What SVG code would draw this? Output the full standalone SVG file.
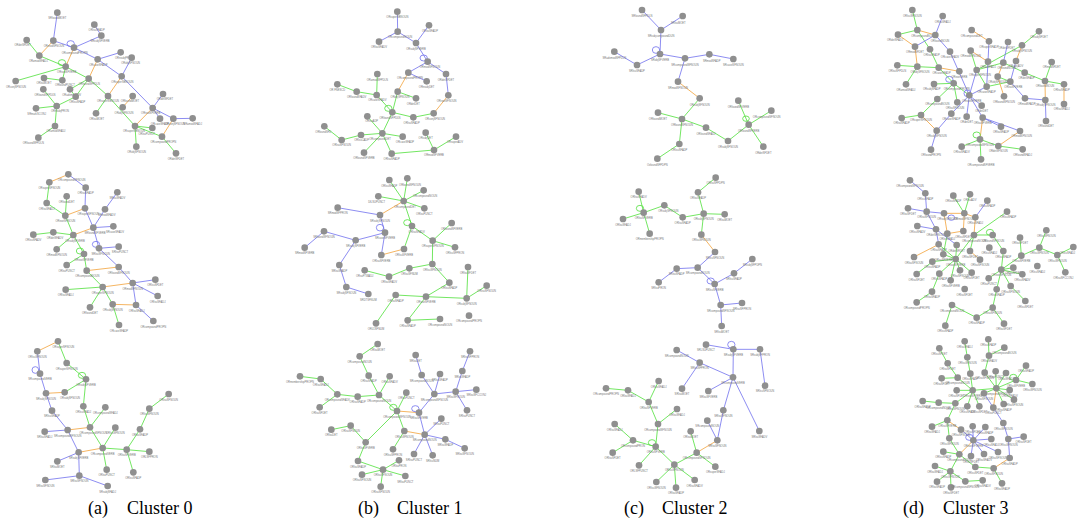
<svg xmlns="http://www.w3.org/2000/svg" width="1078" height="522" viewBox="0 0 1078 522">
<style>
.p circle.nd{fill:#8f8f8f}
.p text{font-family:"Liberation Sans",Arial,sans-serif;font-size:8px;fill:#777;text-anchor:middle}
.e{fill:none;stroke-width:2.4}
.g{stroke:#4fdf3a}
.b{stroke:#7070ee}
.o{stroke:#f2a23a}
.cap{font-family:"Liberation Serif","Times New Roman",serif;font-size:18px;fill:#000}
</style>
<rect width="1078" height="522" fill="#fff"/>

<!-- Panel a -->
<g id="panel-a" class="p" transform="translate(0 0) scale(0.33333)">
<g id="a-edges">
<path class="e g" d="M80 120L118 167M118 167L197 200M197 200L47 243M197 200L266 236M132 234L187 241M187 241L197 200M266 236L210 268M266 236L227 290M266 236L324 288M324 288L405 378M324 288L288 340M130 268L170 318M108 325L170 318M170 318L227 290M170 318L165 378M165 378L115 413M405 378L457 384M405 378L486 410M405 378L409 440M486 410L528 460M210 268L227 290"/>
<path class="e b" d="M172 38L160 122M283 74L304 107M304 107L222 143M160 122L222 143M222 143L293 178M293 178L365 229M395 173L365 229M365 229L458 324M489 282L458 324M458 324L480 356M458 324L520 356M520 356L578 355M362 157L293 178"/>
<path class="e o" d="M160 122L118 167M222 143L197 200M293 178L266 236M365 229L324 288M398 288L368 322M458 324L405 378M520 356L486 410"/>
<ellipse class="e b" cx="212" cy="131" rx="11" ry="9"/>
<ellipse class="e g" cx="186" cy="188" rx="11" ry="9"/>
</g>
<g id="a-n1"><circle class="nd" cx="172" cy="38" r="10"/><text x="172" y="58">SRfoundMOET</text></g>
<g id="a-n2"><circle class="nd" cx="283" cy="74" r="10"/><text x="290" y="94">ORlsuSFADP</text></g>
<g id="a-n3"><circle class="nd" cx="304" cy="107" r="10"/><text x="300" y="127">SRsubjSFVERB</text></g>
<g id="a-n4"><circle class="nd" cx="160" cy="122" r="10"/><text x="162" y="142">ORmodSFNOUN</text></g>
<g id="a-n5"><circle class="nd" cx="80" cy="120" r="10"/><text x="68" y="137">ORdetSFDET</text></g>
<g id="a-n6"><circle class="nd" cx="222" cy="143" r="10"/><text x="224" y="163">ORcompoundPROPN</text></g>
<g id="a-n7"><circle class="nd" cx="118" cy="167" r="10"/><text x="115" y="187">ORamodSFADJ</text></g>
<g id="a-n8"><circle class="nd" cx="362" cy="157" r="10"/><text x="372" y="177">ORnsubjPRON</text></g>
<g id="a-n9"><circle class="nd" cx="395" cy="173" r="10"/><text x="392" y="193">ORobjSFNOUN</text></g>
<g id="a-n10"><circle class="nd" cx="293" cy="178" r="10"/><text x="295" y="197">ORcaseSFADP</text></g>
<g id="a-n11"><circle class="nd" cx="197" cy="200" r="10"/><text x="200" y="219">ORrootSFVERB</text></g>
<g id="a-n12"><circle class="nd" cx="47" cy="243" r="10"/><text x="48" y="263">ORconjSFNOUN</text></g>
<g id="a-n13"><circle class="nd" cx="132" cy="234" r="10"/><text x="132" y="252">ORlsuMOET</text></g>
<g id="a-n14"><circle class="nd" cx="187" cy="241" r="10"/><text x="195" y="259">ORfoundPUNCT</text></g>
<g id="a-n15"><circle class="nd" cx="266" cy="236" r="10"/><text x="268" y="255">ORfoundSFPDLN</text></g>
<g id="a-n16"><circle class="nd" cx="365" cy="229" r="10"/><text x="367" y="248">ORsuperSBNOUN</text></g>
<g id="a-n17"><circle class="nd" cx="210" cy="268" r="10"/><text x="215" y="287">ORadvmodADV</text></g>
<g id="a-n18"><circle class="nd" cx="130" cy="268" r="10"/><text x="135" y="287">ORfoundSFPDLN</text></g>
<g id="a-n19"><circle class="nd" cx="227" cy="290" r="10"/><text x="232" y="309">ORlsuSFADP</text></g>
<g id="a-n20"><circle class="nd" cx="324" cy="288" r="10"/><text x="324" y="307">ORsuperSBNOUN</text></g>
<g id="a-n21"><circle class="nd" cx="398" cy="288" r="10"/><text x="390" y="307">ORfoundMOET</text></g>
<g id="a-n22"><circle class="nd" cx="489" cy="282" r="10"/><text x="495" y="301">ORdetSFDET</text></g>
<g id="a-n23"><circle class="nd" cx="108" cy="325" r="10"/><text x="110" y="345">SRmarkSCONJ</text></g>
<g id="a-n24"><circle class="nd" cx="170" cy="318" r="10"/><text x="180" y="337">ORnsubjPRON</text></g>
<g id="a-n25"><circle class="nd" cx="288" cy="340" r="10"/><text x="290" y="360">ORlsuMOET</text></g>
<g id="a-n26"><circle class="nd" cx="368" cy="322" r="10"/><text x="372" y="341">ORobjSFNOUN</text></g>
<g id="a-n27"><circle class="nd" cx="458" cy="324" r="10"/><text x="452" y="343">ORrootSFVERB</text></g>
<g id="a-n28"><circle class="nd" cx="480" cy="356" r="10"/><text x="480" y="375">ORcaseSFADP</text></g>
<g id="a-n29"><circle class="nd" cx="520" cy="356" r="10"/><text x="525" y="375">ORconjSFNOUN</text></g>
<g id="a-n30"><circle class="nd" cx="578" cy="355" r="10"/><text x="578" y="374">SRamodSFADJ</text></g>
<g id="a-n31"><circle class="nd" cx="165" cy="378" r="10"/><text x="168" y="397">ORamodSFADJ</text></g>
<g id="a-n32"><circle class="nd" cx="405" cy="378" r="10"/><text x="402" y="397">ORsuperSBNOUN</text></g>
<g id="a-n33"><circle class="nd" cx="457" cy="384" r="10"/><text x="440" y="405">ORlsuPUNCT</text></g>
<g id="a-n34"><circle class="nd" cx="486" cy="410" r="10"/><text x="490" y="429">ORcompoundPROPN</text></g>
<g id="a-n35"><circle class="nd" cx="115" cy="413" r="10"/><text x="100" y="432">ORfoundSFPDLN</text></g>
<g id="a-n36"><circle class="nd" cx="409" cy="440" r="10"/><text x="410" y="459">ORobjSFNOUN</text></g>
<g id="a-n37"><circle class="nd" cx="528" cy="460" r="10"/><text x="528" y="479">ORdetSFDET</text></g>
</g>

<!-- Panel b -->
<g id="panel-b" class="p" transform="translate(290 0) scale(0.33333)">
<g id="b-edges">
<path class="e g" d="M431 340L370 352M370 352L307 337M323 275L307 337M323 275L378 295M262 222L260 285M142 253L200 275M200 275L260 285M260 285L307 337M307 337L277 400M277 400L232 349M277 400L213 405M213 405L155 420M103 379L155 420M277 400L338 410M277 400L222 458M277 400L305 461M305 461L432 450M432 450L407 398M432 450L498 410"/>
<path class="e b" d="M322 35L323 95M323 95L267 125M323 95L378 129M417 76L378 129M378 129L413 185M413 185L355 218M413 185L468 222M355 218L410 244M468 222L475 286"/>
<path class="e o" d="M355 218L323 275M475 286L431 340"/>
<ellipse class="e b" cx="401" cy="174" rx="11" ry="9"/>
<ellipse class="e g" cx="295" cy="325" rx="11" ry="9"/>
</g>
<g id="b-n1"><circle class="nd" cx="322" cy="35" r="10"/><text x="322" y="55">ORsuperSBNOUN</text></g>
<g id="b-n2"><circle class="nd" cx="417" cy="76" r="10"/><text x="420" y="96">ORlsuSFADP</text></g>
<g id="b-n3"><circle class="nd" cx="323" cy="95" r="10"/><text x="330" y="115">ORcompoundNOUN</text></g>
<g id="b-n4"><circle class="nd" cx="267" cy="125" r="10"/><text x="267" y="145">ORlsuSFADV</text></g>
<g id="b-n5"><circle class="nd" cx="378" cy="129" r="10"/><text x="378" y="149">ORsubjSFVERB</text></g>
<g id="b-n6"><circle class="nd" cx="413" cy="185" r="10"/><text x="420" y="204">ORmodSFNOUN</text></g>
<g id="b-n7"><circle class="nd" cx="355" cy="218" r="10"/><text x="360" y="238">ORcompoundPROPN</text></g>
<g id="b-n8"><circle class="nd" cx="468" cy="222" r="10"/><text x="468" y="242">ORdetSFDET</text></g>
<g id="b-n9"><circle class="nd" cx="262" cy="222" r="10"/><text x="262" y="242">ORamodSFPDLN</text></g>
<g id="b-n10"><circle class="nd" cx="410" cy="244" r="10"/><text x="410" y="263">ORnsubjDET</text></g>
<g id="b-n11"><circle class="nd" cx="142" cy="253" r="10"/><text x="142" y="272">OR FNESCD</text></g>
<g id="b-n12"><circle class="nd" cx="200" cy="275" r="10"/><text x="200" y="295">ORfoundSFADV</text></g>
<g id="b-n13"><circle class="nd" cx="323" cy="275" r="10"/><text x="330" y="295">ORobjSFNOUN</text></g>
<g id="b-n14"><circle class="nd" cx="260" cy="285" r="10"/><text x="262" y="304">ORcaseSFADV</text></g>
<g id="b-n15"><circle class="nd" cx="378" cy="295" r="10"/><text x="370" y="314">ORdetDET</text></g>
<g id="b-n16"><circle class="nd" cx="475" cy="286" r="10"/><text x="470" y="305">ORrootSFNOUN</text></g>
<g id="b-n17"><circle class="nd" cx="307" cy="337" r="10"/><text x="300" y="356">ORfoundSFPDLN</text></g>
<g id="b-n18"><circle class="nd" cx="431" cy="340" r="10"/><text x="435" y="359">ORconjSFNOUN</text></g>
<g id="b-n19"><circle class="nd" cx="370" cy="352" r="10"/><text x="365" y="371">ORlsuSFADP</text></g>
<g id="b-n20"><circle class="nd" cx="232" cy="349" r="10"/><text x="245" y="367">ORlsuADP</text></g>
<g id="b-n21"><circle class="nd" cx="103" cy="379" r="10"/><text x="100" y="398">ORfoundSFD</text></g>
<g id="b-n22"><circle class="nd" cx="277" cy="400" r="10"/><text x="270" y="419">ORcompoundDET</text></g>
<g id="b-n23"><circle class="nd" cx="213" cy="405" r="10"/><text x="215" y="424">ORlsuCADP</text></g>
<g id="b-n24"><circle class="nd" cx="338" cy="410" r="10"/><text x="345" y="429">ORcaseSFADP</text></g>
<g id="b-n25"><circle class="nd" cx="155" cy="420" r="10"/><text x="155" y="439">ORlsuSFNOUN</text></g>
<g id="b-n26"><circle class="nd" cx="498" cy="410" r="10"/><text x="495" y="429">ORsuperADV</text></g>
<g id="b-n27"><circle class="nd" cx="407" cy="398" r="10"/><text x="407" y="417">ORsubjDET</text></g>
<g id="b-n28"><circle class="nd" cx="432" cy="450" r="10"/><text x="432" y="469">ORmodSFVERB</text></g>
<g id="b-n29"><circle class="nd" cx="222" cy="458" r="10"/><text x="222" y="477">ORfoundSFVERB</text></g>
<g id="b-n30"><circle class="nd" cx="305" cy="461" r="10"/><text x="305" y="480">ORlsuSFADP</text></g>
</g>

<!-- Panel c -->
<g id="panel-c" class="p" transform="translate(560 0) scale(0.33333)">
<g id="c-edges">
<path class="e g" d="M419 295L366 357M294 338L366 357M366 357L438 383M366 357L358 432M358 432L292 476M438 383L504 423M504 423L566 374M566 374L535 302M566 374L634 332M566 374L610 440"/>
<path class="e b" d="M246 30L303 90M368 48L303 90M303 90L300 162M300 162L231 195M163 155L231 195M300 162L375 175M375 175L448 163M448 163L520 177M375 175L354 245"/>
<path class="e o" d="M354 245L419 295"/>
<ellipse class="e b" cx="288" cy="150" rx="11" ry="10"/>
<ellipse class="e g" cx="558" cy="356" rx="10" ry="8"/>
</g>
<g id="c-n1"><circle class="nd" cx="246" cy="30" r="10"/><text x="246" y="52">SRfoundSFPDLN</text></g>
<g id="c-n2"><circle class="nd" cx="368" cy="48" r="10"/><text x="355" y="72">SRlsuMOET</text></g>
<g id="c-n3"><circle class="nd" cx="303" cy="90" r="10"/><text x="303" y="112">SRsubjcompoundDUN</text></g>
<g id="c-n4"><circle class="nd" cx="163" cy="155" r="10"/><text x="163" y="177">SRadvmodSFPDLN</text></g>
<g id="c-n5"><circle class="nd" cx="300" cy="162" r="10"/><text x="300" y="184">SRobjSFVERB</text></g>
<g id="c-n6"><circle class="nd" cx="375" cy="175" r="10"/><text x="375" y="197">SRcompoundSFNOUN</text></g>
<g id="c-n7"><circle class="nd" cx="448" cy="163" r="10"/><text x="455" y="185">SRmodSFADP</text></g>
<g id="c-n8"><circle class="nd" cx="520" cy="177" r="10"/><text x="520" y="199">SRcaseSFNOUN</text></g>
<g id="c-n9"><circle class="nd" cx="231" cy="195" r="10"/><text x="231" y="217">SRlsuSFADP</text></g>
<g id="c-n10"><circle class="nd" cx="354" cy="245" r="10"/><text x="354" y="267">SRmodSFNOUN</text></g>
<g id="c-n11"><circle class="nd" cx="419" cy="295" r="10"/><text x="419" y="317">ORsubjSFNOUN</text></g>
<g id="c-n12"><circle class="nd" cx="535" cy="302" r="10"/><text x="535" y="324">ORfoundSFVERB</text></g>
<g id="c-n13"><circle class="nd" cx="634" cy="332" r="10"/><text x="620" y="354">ORcompoundSFNOUN</text></g>
<g id="c-n14"><circle class="nd" cx="294" cy="338" r="10"/><text x="294" y="360">ORfoundMOET</text></g>
<g id="c-n15"><circle class="nd" cx="366" cy="357" r="10"/><text x="366" y="379">ORfoundSFNOUN</text></g>
<g id="c-n16"><circle class="nd" cx="438" cy="383" r="10"/><text x="438" y="405">ORfoundSFADJ</text></g>
<g id="c-n17"><circle class="nd" cx="566" cy="374" r="10"/><text x="566" y="396">ORfoundSFVERB</text></g>
<g id="c-n18"><circle class="nd" cx="504" cy="423" r="10"/><text x="504" y="445">ORsubjSFNOUN</text></g>
<g id="c-n19"><circle class="nd" cx="358" cy="432" r="10"/><text x="358" y="454">ORlsuSFADP</text></g>
<g id="c-n20"><circle class="nd" cx="610" cy="440" r="10"/><text x="610" y="462">ORdetSFDET</text></g>
<g id="c-n21"><circle class="nd" cx="292" cy="476" r="10"/><text x="292" y="498">OxfoundSFPDPN</text></g>
</g>

<!-- Panel d -->
<g id="panel-d" class="p" transform="translate(860 0) scale(0.33333)">
<g id="d-edges">
<path class="e g" d="M157 30L172 90M172 90L114 104M172 90L210 148M210 148L236 203M112 196L172 200M172 200L236 203M172 200L138 253M236 203L281 250M222 252L281 250M281 250L232 297M232 297L183 345M183 345L125 354M281 250L292 307M350 210L332 152M350 210L380 260M350 210L430 188M430 188L494 218M486 136L537 94M350 210L486 136M413 230L451 245M451 245L380 260M494 218L555 243M575 186L555 243M555 243L612 253M360 418L305 440M360 418L415 438M360 418L363 478M415 438L488 448M281 250L328 286"/>
<path class="e b" d="M248 48L226 105M226 105L165 140M226 105L270 155M270 155L328 286M328 286L350 210M384 185L380 260M468 183L451 245M380 260L328 286M451 245L495 295M495 295L556 300M556 300L558 363M328 286L274 341M274 341L230 392M230 392L213 449M328 286L320 350M328 286L365 317M328 286L368 353M368 353L480 393M368 353L423 380M387 124L384 185M444 126L430 188"/>
<path class="e o" d="M172 90L226 105M114 104L165 140M165 140L172 200M236 203L298 214M183 345L230 392M335 90L387 124M332 152L384 185M430 188L413 230M486 136L468 183M413 230L432 289M555 243L556 300M612 253L612 312M368 353L360 418M480 393L415 438"/>
<ellipse class="e b" cx="268" cy="238" rx="11" ry="9"/>
<circle class="e b" cx="322" cy="280" r="10"/>
<ellipse class="e g" cx="350" cy="405" rx="11" ry="9"/>
</g>
<g id="d-n0"><circle class="nd" cx="157" cy="30" r="10"/><text x="157" y="50">ORlsuSFNOUN</text></g>
<g id="d-n1"><circle class="nd" cx="248" cy="48" r="10"/><text x="248" y="68">ORlsuSFADJ</text></g>
<g id="d-n2"><circle class="nd" cx="172" cy="90" r="10"/><text x="190" y="110">ORcompoundNOUN</text></g>
<g id="d-n3"><circle class="nd" cx="114" cy="104" r="10"/><text x="105" y="124">ORdetSFADJ</text></g>
<g id="d-n4"><circle class="nd" cx="226" cy="105" r="10"/><text x="240" y="125">ORfoundNOUN</text></g>
<g id="d-n5"><circle class="nd" cx="210" cy="148" r="10"/><text x="215" y="167">ORlsuSFADP</text></g>
<g id="d-n6"><circle class="nd" cx="165" cy="140" r="10"/><text x="165" y="159">ORmodSFDET</text></g>
<g id="d-n7"><circle class="nd" cx="335" cy="90" r="10"/><text x="335" y="110">ORcompoundDET</text></g>
<g id="d-n8"><circle class="nd" cx="387" cy="124" r="10"/><text x="387" y="144">ORsuperSFADP</text></g>
<g id="d-n9"><circle class="nd" cx="270" cy="155" r="10"/><text x="270" y="175">ORcaseSFADV</text></g>
<g id="d-n10"><circle class="nd" cx="332" cy="152" r="10"/><text x="332" y="172">ORmodSFNOUN</text></g>
<g id="d-n11"><circle class="nd" cx="444" cy="126" r="10"/><text x="440" y="146">ORdetSFDET</text></g>
<g id="d-n12"><circle class="nd" cx="486" cy="136" r="10"/><text x="486" y="156">ORsubjSFNOUN</text></g>
<g id="d-n13"><circle class="nd" cx="537" cy="94" r="10"/><text x="537" y="114">ORsubjSFDET</text></g>
<g id="d-n14"><circle class="nd" cx="112" cy="196" r="10"/><text x="112" y="215">ORlsuSFPDLN</text></g>
<g id="d-n15"><circle class="nd" cx="172" cy="200" r="10"/><text x="180" y="219">ORobjSFNOUN</text></g>
<g id="d-n16"><circle class="nd" cx="236" cy="203" r="10"/><text x="245" y="222">ORcaseSFADP</text></g>
<g id="d-n17"><circle class="nd" cx="298" cy="214" r="10"/><text x="298" y="233">ORrootVERB</text></g>
<g id="d-n18"><circle class="nd" cx="350" cy="210" r="10"/><text x="360" y="229">ORsuperSFNOUN</text></g>
<g id="d-n19"><circle class="nd" cx="384" cy="185" r="10"/><text x="384" y="204">ORlsuSFADJ</text></g>
<g id="d-n20"><circle class="nd" cx="430" cy="188" r="10"/><text x="440" y="207">ORfoundNOUN</text></g>
<g id="d-n21"><circle class="nd" cx="468" cy="183" r="10"/><text x="468" y="202">ORconjADV</text></g>
<g id="d-n22"><circle class="nd" cx="494" cy="218" r="10"/><text x="500" y="237">ORdetSFADP</text></g>
<g id="d-n23"><circle class="nd" cx="575" cy="186" r="10"/><text x="575" y="205">ORmodSFDET</text></g>
<g id="d-n24"><circle class="nd" cx="555" cy="243" r="10"/><text x="555" y="262">ORfoundNOUN</text></g>
<g id="d-n25"><circle class="nd" cx="612" cy="253" r="10"/><text x="605" y="272">ORlsuSFADP</text></g>
<g id="d-n26"><circle class="nd" cx="138" cy="253" r="10"/><text x="138" y="272">ORamodSFADJ</text></g>
<g id="d-n27"><circle class="nd" cx="222" cy="252" r="10"/><text x="215" y="271">ORsubjSFADP</text></g>
<g id="d-n28"><circle class="nd" cx="281" cy="250" r="10"/><text x="290" y="269">ORcompoundPROPN</text></g>
<g id="d-n29"><circle class="nd" cx="413" cy="230" r="10"/><text x="413" y="249">ORobjSFNOUN</text></g>
<g id="d-n30"><circle class="nd" cx="451" cy="245" r="10"/><text x="460" y="264">ORlsuSFVERB</text></g>
<g id="d-n31"><circle class="nd" cx="380" cy="260" r="10"/><text x="380" y="279">ORcaseSFADP</text></g>
<g id="d-n32"><circle class="nd" cx="328" cy="286" r="10"/><text x="335" y="305">ORrootSFVERB</text></g>
<g id="d-n33"><circle class="nd" cx="292" cy="307" r="10"/><text x="285" y="326">ORlsuSFNOUN</text></g>
<g id="d-n34"><circle class="nd" cx="365" cy="317" r="10"/><text x="365" y="336">ORdetDET</text></g>
<g id="d-n35"><circle class="nd" cx="432" cy="289" r="10"/><text x="432" y="308">ORfoundSFNOUN</text></g>
<g id="d-n36"><circle class="nd" cx="495" cy="295" r="10"/><text x="500" y="314">ORmodSFADP</text></g>
<g id="d-n37"><circle class="nd" cx="556" cy="300" r="10"/><text x="556" y="319">ORsubjSFNOUN</text></g>
<g id="d-n38"><circle class="nd" cx="612" cy="312" r="10"/><text x="605" y="331">ORlsuSFADJ</text></g>
<g id="d-n39"><circle class="nd" cx="232" cy="297" r="10"/><text x="232" y="316">ORcompoundNOUN</text></g>
<g id="d-n40"><circle class="nd" cx="183" cy="345" r="10"/><text x="183" y="364">ORsuperSFNOUN</text></g>
<g id="d-n41"><circle class="nd" cx="125" cy="354" r="10"/><text x="125" y="373">ORlsuSFADP</text></g>
<g id="d-n42"><circle class="nd" cx="274" cy="341" r="10"/><text x="274" y="360">ORcaseSFADP</text></g>
<g id="d-n43"><circle class="nd" cx="320" cy="350" r="10"/><text x="320" y="369">ORdetDET</text></g>
<g id="d-n44"><circle class="nd" cx="368" cy="353" r="10"/><text x="368" y="372">ORlsuSFVERB</text></g>
<g id="d-n45"><circle class="nd" cx="558" cy="363" r="10"/><text x="558" y="382">ORfoundDET</text></g>
<g id="d-n46"><circle class="nd" cx="423" cy="380" r="10"/><text x="423" y="399">ORlsuSFADP</text></g>
<g id="d-n47"><circle class="nd" cx="480" cy="393" r="10"/><text x="485" y="412">ORmodSFNOUN</text></g>
<g id="d-n48"><circle class="nd" cx="230" cy="392" r="10"/><text x="230" y="411">ORsubjSFNOUN</text></g>
<g id="d-n49"><circle class="nd" cx="213" cy="449" r="10"/><text x="213" y="468">ORfoundPROPN</text></g>
<g id="d-n50"><circle class="nd" cx="360" cy="418" r="10"/><text x="360" y="437">ORcompoundSFNOUN</text></g>
<g id="d-n51"><circle class="nd" cx="305" cy="440" r="10"/><text x="305" y="459">ORlsuSFADV</text></g>
<g id="d-n52"><circle class="nd" cx="415" cy="438" r="10"/><text x="415" y="457">ORdetSFNOUN</text></g>
<g id="d-n53"><circle class="nd" cx="488" cy="448" r="10"/><text x="488" y="467">ORfoundSFADJ</text></g>
<g id="d-n54"><circle class="nd" cx="363" cy="478" r="10"/><text x="363" y="497">ORcompoundSFVERB</text></g>
</g>

<!-- Panel e -->
<g id="panel-e" class="p" transform="translate(0 165) scale(0.33333)">
<g id="e-edges">
<path class="e g" d="M148 52L140 114M140 114L196 152M200 94L196 152M196 152L220 210M100 209L160 202M160 202L220 210M220 210L170 253M220 210L252 267M252 267L200 300M252 267L260 317M260 317L308 366M197 374L308 366M308 366L270 427M308 366L338 418M338 418L357 480"/>
<path class="e b" d="M205 28L257 68M257 68L255 130M255 130L280 188M352 82L315 133M315 133L280 188M280 188L340 184M280 188L297 250M297 250L356 245M297 250L356 306M356 306L398 354M398 354L466 344M398 354L473 393M398 354L408 420M408 420L460 468"/>
<path class="e o" d="M205 28L148 52M196 152L255 130M280 188L220 210M260 317L356 306M308 366L398 354M338 418L408 420"/>
<ellipse class="e b" cx="288" cy="238" rx="11" ry="9"/>
<ellipse class="e g" cx="240" cy="258" rx="11" ry="9"/>
</g>
<g id="e-n0"><circle class="nd" cx="205" cy="28" r="10"/><text x="215" y="48">ORcompoundSFNOUN</text></g>
<g id="e-n1"><circle class="nd" cx="148" cy="52" r="10"/><text x="148" y="72">ORsuperSFNOUN</text></g>
<g id="e-n2"><circle class="nd" cx="257" cy="68" r="10"/><text x="257" y="88">ORlsuSFADP</text></g>
<g id="e-n3"><circle class="nd" cx="352" cy="82" r="10"/><text x="352" y="102">SRlsuSFADV</text></g>
<g id="e-n4"><circle class="nd" cx="200" cy="94" r="10"/><text x="200" y="114">ORfoundDET</text></g>
<g id="e-n5"><circle class="nd" cx="140" cy="114" r="10"/><text x="140" y="134">ORlsuSFADJ</text></g>
<g id="e-n6"><circle class="nd" cx="255" cy="130" r="10"/><text x="265" y="150">ORsuperSFNOUN</text></g>
<g id="e-n7"><circle class="nd" cx="315" cy="133" r="10"/><text x="320" y="153">SRmodSFADV</text></g>
<g id="e-n8"><circle class="nd" cx="196" cy="152" r="10"/><text x="196" y="172">ORrootSFNOUN</text></g>
<g id="e-n9"><circle class="nd" cx="280" cy="188" r="10"/><text x="285" y="208">SRfoundSFVERB</text></g>
<g id="e-n10"><circle class="nd" cx="340" cy="184" r="10"/><text x="345" y="204">SRcaseSFADV</text></g>
<g id="e-n11"><circle class="nd" cx="100" cy="209" r="10"/><text x="100" y="229">ORlsuSFADV</text></g>
<g id="e-n12"><circle class="nd" cx="160" cy="202" r="10"/><text x="165" y="222">ORdetSFADV</text></g>
<g id="e-n13"><circle class="nd" cx="220" cy="210" r="10"/><text x="225" y="230">ORsubjSFVERB</text></g>
<g id="e-n14"><circle class="nd" cx="170" cy="253" r="10"/><text x="170" y="273">ORmodSFNOUN</text></g>
<g id="e-n15"><circle class="nd" cx="297" cy="250" r="10"/><text x="302" y="270">SRlsuSFNOUN</text></g>
<g id="e-n16"><circle class="nd" cx="356" cy="245" r="10"/><text x="360" y="265">SRlsuPUNCT</text></g>
<g id="e-n17"><circle class="nd" cx="252" cy="267" r="10"/><text x="252" y="287">ORrootSFVERB</text></g>
<g id="e-n18"><circle class="nd" cx="200" cy="300" r="10"/><text x="200" y="320">ORlsuPUNCT</text></g>
<g id="e-n19"><circle class="nd" cx="260" cy="317" r="10"/><text x="262" y="337">ORcompoundNOUN</text></g>
<g id="e-n20"><circle class="nd" cx="356" cy="306" r="10"/><text x="356" y="326">ORfoundSFNOUN</text></g>
<g id="e-n21"><circle class="nd" cx="398" cy="354" r="10"/><text x="398" y="374">ORmodSFNOUN</text></g>
<g id="e-n22"><circle class="nd" cx="466" cy="344" r="10"/><text x="466" y="364">ORlsuSFDET</text></g>
<g id="e-n23"><circle class="nd" cx="197" cy="374" r="10"/><text x="197" y="394">ORlsuSFADJ</text></g>
<g id="e-n24"><circle class="nd" cx="308" cy="366" r="10"/><text x="308" y="386">ORsuperSFNOUN</text></g>
<g id="e-n25"><circle class="nd" cx="473" cy="393" r="10"/><text x="473" y="413">ORlsuSFADJ</text></g>
<g id="e-n26"><circle class="nd" cx="270" cy="427" r="10"/><text x="270" y="447">ORfoundDET</text></g>
<g id="e-n27"><circle class="nd" cx="338" cy="418" r="10"/><text x="338" y="438">ORsubjSFNOUN</text></g>
<g id="e-n28"><circle class="nd" cx="408" cy="420" r="10"/><text x="410" y="440">ORlsuSFADJ</text></g>
<g id="e-n29"><circle class="nd" cx="460" cy="468" r="10"/><text x="460" y="488">ORcompoundPROPN</text></g>
<g id="e-n30"><circle class="nd" cx="357" cy="480" r="10"/><text x="357" y="500">ORcaseSFADP</text></g>
</g>

<!-- Panel f -->
<g id="panel-f" class="p" transform="translate(290 165) scale(0.33333)">
<g id="f-edges">
<path class="e g" d="M298 45L341 108M352 40L341 108M401 76L341 108M265 94L341 108M403 130L341 108M341 108L366 183M366 183L342 252M366 183L428 227M428 227L485 174M428 227L495 247M428 227L427 297M427 297L358 310M358 310L297 335M224 316L297 335M427 297L478 353M478 353L408 395M317 390L408 395M408 395L530 400M534 306L530 400M590 362L530 400M408 395L353 466M353 466L450 462M317 390L258 475"/>
<path class="e b" d="M143 128L270 150M270 150L285 203M285 203L197 226M285 203L274 270M102 199L197 226M102 199L44 248M197 226L148 300M148 300L169 366M169 366L235 387"/>
<path class="e o" d="M341 108L270 150M342 252L274 270"/>
<ellipse class="e g" cx="352" cy="173" rx="11" ry="9"/>
<ellipse class="e b" cx="270" cy="188" rx="11" ry="10"/>
</g>
<g id="f-n0"><circle class="nd" cx="298" cy="45" r="10"/><text x="298" y="65">ORlsuSFADP</text></g>
<g id="f-n1"><circle class="nd" cx="352" cy="40" r="10"/><text x="360" y="62">ORfoundSFNOUN</text></g>
<g id="f-n2"><circle class="nd" cx="401" cy="76" r="10"/><text x="405" y="96">ORcompoundNOUN</text></g>
<g id="f-n3"><circle class="nd" cx="265" cy="94" r="10"/><text x="260" y="114">DfLSUPUNCT</text></g>
<g id="f-n4"><circle class="nd" cx="341" cy="108" r="10"/><text x="345" y="128">ORcompoundDET</text></g>
<g id="f-n5"><circle class="nd" cx="403" cy="130" r="10"/><text x="403" y="150">ORlsuPUNCT</text></g>
<g id="f-n6"><circle class="nd" cx="143" cy="128" r="10"/><text x="143" y="148">SRmodSFPRON</text></g>
<g id="f-n7"><circle class="nd" cx="270" cy="150" r="10"/><text x="270" y="170">SRsubjSFNOUN</text></g>
<g id="f-n8"><circle class="nd" cx="366" cy="183" r="10"/><text x="380" y="203">ORlsuSFADV</text></g>
<g id="f-n9"><circle class="nd" cx="485" cy="174" r="10"/><text x="485" y="194">ORfoundSFVERB</text></g>
<g id="f-n10"><circle class="nd" cx="102" cy="199" r="10"/><text x="102" y="219">SRfoundSFNOUN</text></g>
<g id="f-n11"><circle class="nd" cx="285" cy="203" r="10"/><text x="285" y="223">SRcaseSFVERB</text></g>
<g id="f-n12"><circle class="nd" cx="197" cy="226" r="10"/><text x="197" y="246">SRsubjSFVERB</text></g>
<g id="f-n13"><circle class="nd" cx="428" cy="227" r="10"/><text x="428" y="247">ORsuperSFNOUN</text></g>
<g id="f-n14"><circle class="nd" cx="44" cy="248" r="10"/><text x="44" y="268">SRmodSFVERB</text></g>
<g id="f-n15"><circle class="nd" cx="342" cy="252" r="10"/><text x="342" y="272">ORlsuSFVERB</text></g>
<g id="f-n16"><circle class="nd" cx="495" cy="247" r="10"/><text x="495" y="267">ORlsuSFPRON</text></g>
<g id="f-n17"><circle class="nd" cx="274" cy="270" r="10"/><text x="274" y="290">ORlsuSFVERB</text></g>
<g id="f-n18"><circle class="nd" cx="148" cy="300" r="10"/><text x="148" y="320">SRlsuSFADP</text></g>
<g id="f-n19"><circle class="nd" cx="427" cy="297" r="10"/><text x="427" y="317">ORlsuSFNOUN</text></g>
<g id="f-n20"><circle class="nd" cx="224" cy="316" r="10"/><text x="224" y="336">ORsuFTWADJ</text></g>
<g id="f-n21"><circle class="nd" cx="358" cy="310" r="10"/><text x="358" y="330">ORlsuSFNUM</text></g>
<g id="f-n22"><circle class="nd" cx="297" cy="335" r="10"/><text x="297" y="355">ORlsuSFADV</text></g>
<g id="f-n23"><circle class="nd" cx="534" cy="306" r="10"/><text x="534" y="326">ORlsuSFDET</text></g>
<g id="f-n24"><circle class="nd" cx="478" cy="353" r="10"/><text x="478" y="373">ORlsuSFADP</text></g>
<g id="f-n25"><circle class="nd" cx="169" cy="366" r="10"/><text x="169" y="386">SRsubjSFNOUN</text></g>
<g id="f-n26"><circle class="nd" cx="235" cy="387" r="10"/><text x="235" y="407">SRDTSFNUM</text></g>
<g id="f-n27"><circle class="nd" cx="590" cy="362" r="10"/><text x="590" y="382">ORlsuSFNOUN</text></g>
<g id="f-n28"><circle class="nd" cx="317" cy="390" r="10"/><text x="317" y="410">ORlsuSFADP</text></g>
<g id="f-n29"><circle class="nd" cx="408" cy="395" r="10"/><text x="408" y="415">ORrootSFVERB</text></g>
<g id="f-n30"><circle class="nd" cx="530" cy="400" r="10"/><text x="530" y="420">ORsubjSFNOUN</text></g>
<g id="f-n31"><circle class="nd" cx="537" cy="452" r="10"/><text x="537" y="472">ORcompoundPROPN</text></g>
<g id="f-n32"><circle class="nd" cx="450" cy="462" r="10"/><text x="450" y="482">ORcompoundNOUN</text></g>
<g id="f-n33"><circle class="nd" cx="353" cy="466" r="10"/><text x="353" y="486">ORlsuSFADP</text></g>
<g id="f-n34"><circle class="nd" cx="258" cy="475" r="10"/><text x="258" y="495">OR01SFNUM</text></g>
</g>

<!-- Panel g -->
<g id="panel-g" class="p" transform="translate(580 165) scale(0.33333)">
<g id="g-edges">
<path class="e g" d="M407 38L354 82M354 82L371 146M371 146L434 148M371 146L308 157M308 157L253 121M253 121L191 143M176 80L191 143M191 143L129 162M191 143L209 206M371 146L364 209"/>
<path class="e b" d="M405 261L353 308M353 308L290 311M290 311L236 352M353 308L404 357M404 357L462 325M462 325L517 282M404 357L422 420M422 420L486 414M422 420L425 483"/>
<path class="e o" d="M364 209L405 261"/>
<ellipse class="e g" cx="180" cy="130" rx="11" ry="9"/>
<ellipse class="e b" cx="392" cy="348" rx="11" ry="9"/>
</g>
<g id="g-n0"><circle class="nd" cx="407" cy="38" r="10"/><text x="407" y="58">ORlsuSFPDPN</text></g>
<g id="g-n1"><circle class="nd" cx="354" cy="82" r="10"/><text x="354" y="102">ORlsuSFADP</text></g>
<g id="g-n2"><circle class="nd" cx="176" cy="80" r="10"/><text x="176" y="100">ORlsuSFADV</text></g>
<g id="g-n3"><circle class="nd" cx="191" cy="143" r="10"/><text x="191" y="163">ORlsuSFVERB</text></g>
<g id="g-n4"><circle class="nd" cx="253" cy="121" r="10"/><text x="265" y="141">ORsubjSFNOUN</text></g>
<g id="g-n5"><circle class="nd" cx="129" cy="162" r="10"/><text x="129" y="182">ORlsuSFADJ</text></g>
<g id="g-n6"><circle class="nd" cx="308" cy="157" r="10"/><text x="308" y="177">ORlsuSFADP</text></g>
<g id="g-n7"><circle class="nd" cx="371" cy="146" r="10"/><text x="371" y="166">ORsubjSFNOUN</text></g>
<g id="g-n8"><circle class="nd" cx="434" cy="148" r="10"/><text x="434" y="168">ORlsuMOET</text></g>
<g id="g-n9"><circle class="nd" cx="209" cy="206" r="10"/><text x="209" y="226">ORmembershipPROPN</text></g>
<g id="g-n10"><circle class="nd" cx="364" cy="209" r="10"/><text x="364" y="229">ORlsuSFNOUN</text></g>
<g id="g-n11"><circle class="nd" cx="405" cy="261" r="10"/><text x="405" y="281">SRlsuSFNOUN</text></g>
<g id="g-n12"><circle class="nd" cx="353" cy="308" r="10"/><text x="353" y="328">SRcompoundNOUN</text></g>
<g id="g-n13"><circle class="nd" cx="290" cy="311" r="10"/><text x="290" y="331">SRlsuSFADP</text></g>
<g id="g-n14"><circle class="nd" cx="236" cy="352" r="10"/><text x="236" y="372">SRlsuPRON</text></g>
<g id="g-n15"><circle class="nd" cx="517" cy="282" r="10"/><text x="517" y="302">SRsubjSFPDPN</text></g>
<g id="g-n16"><circle class="nd" cx="462" cy="325" r="10"/><text x="462" y="345">SRlsuSFADP</text></g>
<g id="g-n17"><circle class="nd" cx="404" cy="357" r="10"/><text x="404" y="377">SRlsuSFVERB</text></g>
<g id="g-n18"><circle class="nd" cx="422" cy="420" r="10"/><text x="422" y="440">SRcompoundSFNOUN</text></g>
<g id="g-n19"><circle class="nd" cx="486" cy="414" r="10"/><text x="486" y="434">SRlsuSFPRON</text></g>
<g id="g-n20"><circle class="nd" cx="425" cy="483" r="10"/><text x="425" y="503">SRlsuMOET</text></g>
</g>

<!-- Panel h -->
<g id="panel-h" class="p" transform="translate(860 165) scale(0.33333)">
<g id="h-edges">
<path class="e g" d="M280 92L313 145M330 88L313 145M342 210L398 210M342 210L441 140M342 210L287 282M236 238L287 282M290 240L287 282M250 268L287 282M217 290L287 282M217 290L170 327M287 282L238 326M287 282L300 316M287 282L335 323M287 282L272 346M238 326L216 380M216 380L170 412M398 210L430 258M430 258L424 314M424 314L386 340M424 314L460 308M424 314L487 328M424 314L410 373M424 314L452 363M424 314L484 272M484 272L480 218M484 272L538 248M538 248L559 196M538 248L592 270M592 270L640 246M592 270L616 322M452 363L496 408M410 373L398 428M398 428L350 458M398 428L432 476M350 458L276 420M276 420L256 482M262 206L250 268M342 210L330 258"/>
<path class="e b" d="M150 46L196 85M196 85L200 140M144 130L200 140M200 140L228 193M172 183L228 193M382 107L346 157M228 193L290 240M200 140L252 145M228 193L236 238"/>
<path class="e o" d="M252 145L313 145M252 145L262 206M313 145L310 198M346 157L342 210M262 206L310 198M236 238L162 276M330 258L360 284M313 145L346 157"/>
<ellipse class="e b" cx="274" cy="158" rx="10" ry="8"/>
<ellipse class="e g" cx="390" cy="202" rx="11" ry="9"/>
</g>
<g id="h-n0"><circle class="nd" cx="150" cy="46" r="10"/><text x="150" y="66">ORcompoundSFNOUN</text></g>
<g id="h-n1"><circle class="nd" cx="196" cy="85" r="10"/><text x="196" y="105">ORlsuSFADP</text></g>
<g id="h-n2"><circle class="nd" cx="144" cy="130" r="10"/><text x="144" y="150">ORlsuSFDET</text></g>
<g id="h-n3"><circle class="nd" cx="200" cy="140" r="10"/><text x="200" y="160">ORlsuSFNOUN</text></g>
<g id="h-n4"><circle class="nd" cx="252" cy="145" r="10"/><text x="262" y="165">ORsubjSFNOUN</text></g>
<g id="h-n5"><circle class="nd" cx="280" cy="92" r="10"/><text x="280" y="112">ORlsuSFADP</text></g>
<g id="h-n6"><circle class="nd" cx="330" cy="88" r="10"/><text x="330" y="108">ORlsuADV</text></g>
<g id="h-n7"><circle class="nd" cx="382" cy="107" r="10"/><text x="382" y="127">ORlsuSFADP</text></g>
<g id="h-n8"><circle class="nd" cx="313" cy="145" r="10"/><text x="313" y="165">ORmodSFNOUN</text></g>
<g id="h-n9"><circle class="nd" cx="346" cy="157" r="10"/><text x="346" y="177">ORlsuSFADJ</text></g>
<g id="h-n10"><circle class="nd" cx="441" cy="140" r="10"/><text x="445" y="160">ORlsuSFADP</text></g>
<g id="h-n11"><circle class="nd" cx="172" cy="183" r="10"/><text x="172" y="203">ORlsuSFADV</text></g>
<g id="h-n12"><circle class="nd" cx="228" cy="193" r="10"/><text x="228" y="213">ORdetSFNOUN</text></g>
<g id="h-n13"><circle class="nd" cx="262" cy="206" r="10"/><text x="262" y="226">ORlsuSFADJ</text></g>
<g id="h-n14"><circle class="nd" cx="310" cy="198" r="10"/><text x="310" y="218">ORlsuSFDET</text></g>
<g id="h-n15"><circle class="nd" cx="342" cy="210" r="10"/><text x="342" y="230">ORcompoundNOUN</text></g>
<g id="h-n16"><circle class="nd" cx="398" cy="210" r="10"/><text x="400" y="230">ORfoundSFNOUN</text></g>
<g id="h-n17"><circle class="nd" cx="236" cy="238" r="10"/><text x="236" y="258">ORlsuSFADP</text></g>
<g id="h-n18"><circle class="nd" cx="290" cy="240" r="10"/><text x="290" y="260">ORdetSFDET</text></g>
<g id="h-n19"><circle class="nd" cx="250" cy="268" r="10"/><text x="250" y="288">ORlsuSFVERB</text></g>
<g id="h-n20"><circle class="nd" cx="330" cy="258" r="10"/><text x="330" y="278">ORlsuSFDET</text></g>
<g id="h-n21"><circle class="nd" cx="388" cy="248" r="10"/><text x="388" y="268">ORlsuSFADJ</text></g>
<g id="h-n22"><circle class="nd" cx="430" cy="258" r="10"/><text x="430" y="278">ORlsuSFADP</text></g>
<g id="h-n23"><circle class="nd" cx="480" cy="218" r="10"/><text x="480" y="238">ORlsuSFDET</text></g>
<g id="h-n24"><circle class="nd" cx="559" cy="196" r="10"/><text x="559" y="216">ORlsuSFNOUN</text></g>
<g id="h-n25"><circle class="nd" cx="538" cy="248" r="10"/><text x="538" y="268">ORlsuSFNOUN</text></g>
<g id="h-n26"><circle class="nd" cx="484" cy="272" r="10"/><text x="484" y="292">ORlsuSFVERB</text></g>
<g id="h-n27"><circle class="nd" cx="640" cy="246" r="10"/><text x="622" y="266">ORlsuSFADJ</text></g>
<g id="h-n28"><circle class="nd" cx="592" cy="270" r="10"/><text x="592" y="290">ORlsuSFNOUN</text></g>
<g id="h-n29"><circle class="nd" cx="162" cy="276" r="10"/><text x="162" y="296">ORlsuSFNOUN</text></g>
<g id="h-n30"><circle class="nd" cx="217" cy="290" r="10"/><text x="217" y="310">ORlsuSFADP</text></g>
<g id="h-n31"><circle class="nd" cx="287" cy="282" r="10"/><text x="287" y="302">ORrootSFVERB</text></g>
<g id="h-n32"><circle class="nd" cx="360" cy="284" r="10"/><text x="360" y="304">ORlsuSFNOUN</text></g>
<g id="h-n33"><circle class="nd" cx="532" cy="303" r="10"/><text x="532" y="323">ORlsuSFADJ</text></g>
<g id="h-n34"><circle class="nd" cx="616" cy="322" r="10"/><text x="610" y="342">ORlsuSFCCONJ</text></g>
<g id="h-n35"><circle class="nd" cx="170" cy="327" r="10"/><text x="170" y="347">ORlsuSFDET</text></g>
<g id="h-n36"><circle class="nd" cx="238" cy="326" r="10"/><text x="238" y="346">ORlsuSFADP</text></g>
<g id="h-n37"><circle class="nd" cx="300" cy="316" r="10"/><text x="300" y="336">ORlsuSFNOUN</text></g>
<g id="h-n38"><circle class="nd" cx="335" cy="323" r="10"/><text x="335" y="343">ORlsuSFDET</text></g>
<g id="h-n39"><circle class="nd" cx="386" cy="340" r="10"/><text x="386" y="360">ORlsuPUNCT</text></g>
<g id="h-n40"><circle class="nd" cx="424" cy="314" r="10"/><text x="424" y="334">ORrootSFNOUN</text></g>
<g id="h-n41"><circle class="nd" cx="460" cy="308" r="10"/><text x="460" y="328">ORlsuSFDET</text></g>
<g id="h-n42"><circle class="nd" cx="487" cy="328" r="10"/><text x="487" y="348">ORlsuSFADV</text></g>
<g id="h-n43"><circle class="nd" cx="272" cy="346" r="10"/><text x="272" y="366">ORlsuSFVERB</text></g>
<g id="h-n44"><circle class="nd" cx="314" cy="372" r="10"/><text x="314" y="392">ORlsuSFDET</text></g>
<g id="h-n45"><circle class="nd" cx="410" cy="373" r="10"/><text x="410" y="393">ORlsuSFADP</text></g>
<g id="h-n46"><circle class="nd" cx="452" cy="363" r="10"/><text x="452" y="383">ORlsuSFNOUN</text></g>
<g id="h-n47"><circle class="nd" cx="216" cy="380" r="10"/><text x="216" y="400">ORlsuSFADP</text></g>
<g id="h-n48"><circle class="nd" cx="170" cy="412" r="10"/><text x="170" y="432">ORcompoundPROPN</text></g>
<g id="h-n49"><circle class="nd" cx="496" cy="408" r="10"/><text x="496" y="428">ORlsuSFDET</text></g>
<g id="h-n50"><circle class="nd" cx="276" cy="420" r="10"/><text x="276" y="440">ORcompoundNOUN</text></g>
<g id="h-n51"><circle class="nd" cx="398" cy="428" r="10"/><text x="398" y="448">ORlsuSFNOUN</text></g>
<g id="h-n52"><circle class="nd" cx="350" cy="458" r="10"/><text x="350" y="478">ORlsuSFADP</text></g>
<g id="h-n53"><circle class="nd" cx="432" cy="476" r="10"/><text x="432" y="496">ORlsuSFDET</text></g>
<g id="h-n54"><circle class="nd" cx="256" cy="482" r="10"/><text x="256" y="502">ORlsuSFADP</text></g>
</g>

<!-- Panel i -->
<g id="panel-i" class="p" transform="translate(0 330) scale(0.33333)">
<g id="i-edges">
<path class="e g" d="M174 34L200 99M200 99L258 148M194 187L258 148M258 148L250 229M250 229L270 292M316 232L270 292M270 292L308 354M346 293L308 354M308 354L380 359M380 359L420 298M420 298L448 236M448 236L506 192M380 359L448 365M380 359L400 427M308 354L320 419"/>
<path class="e b" d="M112 64L120 131M120 131L138 190M138 190L156 242M156 242L203 300M134 305L203 300M203 300L236 367M236 367L172 394M236 367L238 437M238 437L136 450M238 437L323 468"/>
<path class="e o" d="M174 34L112 64M138 190L194 187M203 300L270 292M236 367L308 354"/>
<ellipse class="e b" cx="106" cy="120" rx="10" ry="10"/>
<ellipse class="e g" cx="246" cy="136" rx="11" ry="9"/>
</g>
<g id="i-n0"><circle class="nd" cx="174" cy="34" r="10"/><text x="190" y="54">ORsuperSFNOUN</text></g>
<g id="i-n1"><circle class="nd" cx="112" cy="64" r="10"/><text x="112" y="84">ORlsuSFNOUN</text></g>
<g id="i-n2"><circle class="nd" cx="200" cy="99" r="10"/><text x="200" y="119">ORsuperSFNOUN</text></g>
<g id="i-n3"><circle class="nd" cx="120" cy="131" r="10"/><text x="120" y="151">SRcompoundVERB</text></g>
<g id="i-n4"><circle class="nd" cx="258" cy="148" r="10"/><text x="258" y="168">ORsubjSFVERB</text></g>
<g id="i-n5"><circle class="nd" cx="138" cy="190" r="10"/><text x="138" y="210">SRsubjSFNOUN</text></g>
<g id="i-n6"><circle class="nd" cx="194" cy="187" r="10"/><text x="210" y="207">ORsubjSFNOUN</text></g>
<g id="i-n7"><circle class="nd" cx="506" cy="192" r="10"/><text x="506" y="212">ORlsuSFNOUN</text></g>
<g id="i-n8"><circle class="nd" cx="156" cy="242" r="10"/><text x="156" y="262">SRlsuSFADP</text></g>
<g id="i-n9"><circle class="nd" cx="250" cy="229" r="10"/><text x="250" y="249">ORlsuSFADJ</text></g>
<g id="i-n10"><circle class="nd" cx="316" cy="232" r="10"/><text x="316" y="252">ORcompoundSFADJ</text></g>
<g id="i-n11"><circle class="nd" cx="448" cy="236" r="10"/><text x="448" y="256">ORlsuSFNOUN</text></g>
<g id="i-n12"><circle class="nd" cx="134" cy="305" r="10"/><text x="134" y="325">SRlsuSFADJ</text></g>
<g id="i-n13"><circle class="nd" cx="203" cy="300" r="10"/><text x="203" y="320">SRcompoundSFNOUN</text></g>
<g id="i-n14"><circle class="nd" cx="270" cy="292" r="10"/><text x="280" y="312">ORcompoundSFNOUN</text></g>
<g id="i-n15"><circle class="nd" cx="346" cy="293" r="10"/><text x="346" y="313">ORlsuSFNOUN</text></g>
<g id="i-n16"><circle class="nd" cx="420" cy="298" r="10"/><text x="420" y="318">ORlsuSFADP</text></g>
<g id="i-n17"><circle class="nd" cx="236" cy="367" r="10"/><text x="236" y="387">SRsubjSFVERB</text></g>
<g id="i-n18"><circle class="nd" cx="308" cy="354" r="10"/><text x="308" y="374">ORcompoundVERB</text></g>
<g id="i-n19"><circle class="nd" cx="380" cy="359" r="10"/><text x="380" y="379">ORlsuSFVERB</text></g>
<g id="i-n20"><circle class="nd" cx="448" cy="365" r="10"/><text x="448" y="385">ORLSFPRON</text></g>
<g id="i-n21"><circle class="nd" cx="172" cy="394" r="10"/><text x="172" y="414">SRlsuMOET</text></g>
<g id="i-n22"><circle class="nd" cx="320" cy="419" r="10"/><text x="320" y="439">ORlsuPUNCT</text></g>
<g id="i-n23"><circle class="nd" cx="400" cy="427" r="10"/><text x="400" y="447">ORlsuSFADP</text></g>
<g id="i-n24"><circle class="nd" cx="238" cy="437" r="10"/><text x="238" y="457">SRlsuSFNOUN</text></g>
<g id="i-n25"><circle class="nd" cx="136" cy="450" r="10"/><text x="136" y="470">SRlsuSFNOUN</text></g>
<g id="i-n26"><circle class="nd" cx="323" cy="468" r="10"/><text x="323" y="488">SRsubjSFADJ</text></g>
</g>

<!-- Panel j -->
<g id="panel-j" class="p" transform="translate(270 330) scale(0.33333)">
<g id="j-edges">
<path class="e g" d="M323 42L269 79M269 79L296 137M296 137L327 195M359 139L327 195M90 139L152 147M152 147L202 193M202 193L263 200M202 193L149 232M263 200L327 195M327 195L381 243M409 188L381 243M381 243L403 303M381 243L287 337M184 299L242 287M242 287L287 337M287 337L264 393M264 393L339 419M339 419L387 391M339 419L276 434M339 419L406 438M339 419L332 470M403 303L369 358"/>
<path class="e b" d="M437 75L455 135M455 135L493 192M510 132L493 192M493 192L447 248M493 192L557 185M600 64L577 123M577 123L557 185M557 185L619 179M557 185L591 241M447 248L464 314M464 314L514 266M464 314L526 328M526 328L584 355M464 314L432 372M464 314L488 376"/>
<path class="e o" d="M381 243L447 248M403 303L464 314"/>
<ellipse class="e g" cx="370" cy="232" rx="11" ry="9"/>
<ellipse class="e b" cx="436" cy="236" rx="11" ry="9"/>
</g>
<g id="j-n0"><circle class="nd" cx="323" cy="42" r="10"/><text x="323" y="62">ORlsuMOET</text></g>
<g id="j-n1"><circle class="nd" cx="269" cy="79" r="10"/><text x="269" y="99">ORcompoundNOUN</text></g>
<g id="j-n2"><circle class="nd" cx="437" cy="75" r="10"/><text x="437" y="95">SRlsuDET</text></g>
<g id="j-n3"><circle class="nd" cx="600" cy="64" r="10"/><text x="600" y="84">SRlsuSFPRON</text></g>
<g id="j-n4"><circle class="nd" cx="90" cy="139" r="10"/><text x="90" y="159">ORmembershipPROPN</text></g>
<g id="j-n5"><circle class="nd" cx="152" cy="147" r="10"/><text x="152" y="167">ORlsuSFADJ</text></g>
<g id="j-n6"><circle class="nd" cx="296" cy="137" r="10"/><text x="296" y="157">ORlsuSFADP</text></g>
<g id="j-n7"><circle class="nd" cx="359" cy="139" r="10"/><text x="359" y="159">ORlsuSFADV</text></g>
<g id="j-n8"><circle class="nd" cx="455" cy="135" r="10"/><text x="455" y="155">SRcompoundNOUN</text></g>
<g id="j-n9"><circle class="nd" cx="510" cy="132" r="10"/><text x="510" y="152">SRlsuSFADP</text></g>
<g id="j-n10"><circle class="nd" cx="577" cy="123" r="10"/><text x="577" y="143">SRlsuSFADP</text></g>
<g id="j-n11"><circle class="nd" cx="202" cy="193" r="10"/><text x="202" y="213">ORcompoundSFADV</text></g>
<g id="j-n12"><circle class="nd" cx="263" cy="200" r="10"/><text x="263" y="220">ORlsuSFADP</text></g>
<g id="j-n13"><circle class="nd" cx="327" cy="195" r="10"/><text x="327" y="215">ORcompoundNOUN</text></g>
<g id="j-n14"><circle class="nd" cx="409" cy="188" r="10"/><text x="409" y="208">ORlsuPUNCT</text></g>
<g id="j-n15"><circle class="nd" cx="493" cy="192" r="10"/><text x="493" y="212">SRcompoundSFNOUN</text></g>
<g id="j-n16"><circle class="nd" cx="557" cy="185" r="10"/><text x="557" y="205">SRlsuSFNOUN</text></g>
<g id="j-n17"><circle class="nd" cx="619" cy="179" r="10"/><text x="619" y="199">SRlsuSFCCONJ</text></g>
<g id="j-n18"><circle class="nd" cx="149" cy="232" r="10"/><text x="149" y="252">ORlsuSFDET</text></g>
<g id="j-n19"><circle class="nd" cx="381" cy="243" r="10"/><text x="381" y="263">ORcompoundSFNOUN</text></g>
<g id="j-n20"><circle class="nd" cx="447" cy="248" r="10"/><text x="447" y="268">SRlsuSFVERB</text></g>
<g id="j-n21"><circle class="nd" cx="591" cy="241" r="10"/><text x="591" y="261">SRlsuPUNCT</text></g>
<g id="j-n22"><circle class="nd" cx="514" cy="266" r="10"/><text x="514" y="286">SRlsuPUNCT</text></g>
<g id="j-n23"><circle class="nd" cx="184" cy="299" r="10"/><text x="184" y="319">ORlsuDET</text></g>
<g id="j-n24"><circle class="nd" cx="242" cy="287" r="10"/><text x="242" y="307">ORlsuSFNOUN</text></g>
<g id="j-n25"><circle class="nd" cx="403" cy="303" r="10"/><text x="403" y="323">ORlsuSFNOUN</text></g>
<g id="j-n26"><circle class="nd" cx="464" cy="314" r="10"/><text x="464" y="334">SRcompoundNOUN</text></g>
<g id="j-n27"><circle class="nd" cx="526" cy="328" r="10"/><text x="526" y="348">SRlsuSFADP</text></g>
<g id="j-n28"><circle class="nd" cx="584" cy="355" r="10"/><text x="584" y="375">SRlsuSFNOUN</text></g>
<g id="j-n29"><circle class="nd" cx="287" cy="337" r="10"/><text x="287" y="357">ORlsuSFVERB</text></g>
<g id="j-n30"><circle class="nd" cx="369" cy="358" r="10"/><text x="369" y="378">ORlsuSFPRON</text></g>
<g id="j-n31"><circle class="nd" cx="432" cy="372" r="10"/><text x="432" y="392">SRlsuPUNCT</text></g>
<g id="j-n32"><circle class="nd" cx="488" cy="376" r="10"/><text x="488" y="396">SRlsuNUM</text></g>
<g id="j-n33"><circle class="nd" cx="264" cy="393" r="10"/><text x="264" y="413">ORlsuSFADP</text></g>
<g id="j-n34"><circle class="nd" cx="387" cy="391" r="10"/><text x="387" y="411">ORlsuPRON</text></g>
<g id="j-n35"><circle class="nd" cx="339" cy="419" r="10"/><text x="339" y="439">ORlsuSFNOUN</text></g>
<g id="j-n36"><circle class="nd" cx="276" cy="434" r="10"/><text x="276" y="454">ORlsuSFNOUN</text></g>
<g id="j-n37"><circle class="nd" cx="406" cy="438" r="10"/><text x="406" y="458">SRlsuPUNCT</text></g>
<g id="j-n38"><circle class="nd" cx="332" cy="470" r="10"/><text x="332" y="490">ORlsuSFNOUN</text></g>
</g>

<!-- Panel k -->
<g id="panel-k" class="p" transform="translate(570 330) scale(0.33333)">
<g id="k-edges">
<path class="e g" d="M362 304L380 368M380 368L436 410M380 368L313 404M313 404L257 350M313 404L259 456M313 404L374 450M313 404L318 473M257 350L189 331M134 282L189 331M189 331L128 368M257 350L207 406M257 350L264 282M264 282L321 237M264 282L236 216M236 216L266 153M236 216L174 181M174 181L108 175"/>
<path class="e b" d="M408 44L490 58M490 58L570 58M570 58L585 167M490 58L489 142M320 60L389 98M389 98L489 142M389 98L336 176M489 142L415 183M489 142L460 241M489 142L568 303M460 241L442 331M412 272L442 331"/>
<path class="e o" d="M442 331L380 368"/>
<ellipse class="e b" cx="484" cy="44" rx="11" ry="10"/>
<ellipse class="e g" cx="246" cy="338" rx="11" ry="9"/>
</g>
<g id="k-n0"><circle class="nd" cx="408" cy="44" r="10"/><text x="408" y="64">SRLSUPUNCT</text></g>
<g id="k-n1"><circle class="nd" cx="490" cy="58" r="10"/><text x="490" y="78">SRsubjSFVERB</text></g>
<g id="k-n2"><circle class="nd" cx="570" cy="58" r="10"/><text x="570" y="78">SRsubjSFPRON</text></g>
<g id="k-n3"><circle class="nd" cx="320" cy="60" r="10"/><text x="320" y="80">SRcompoundNOUN</text></g>
<g id="k-n4"><circle class="nd" cx="389" cy="98" r="10"/><text x="389" y="118">SRlsuSFPRON</text></g>
<g id="k-n5"><circle class="nd" cx="489" cy="142" r="10"/><text x="489" y="162">SRcompoundVERB</text></g>
<g id="k-n6"><circle class="nd" cx="266" cy="153" r="10"/><text x="266" y="173">ORlsuSFADJ</text></g>
<g id="k-n7"><circle class="nd" cx="585" cy="167" r="10"/><text x="585" y="187">SRlsuSFNOUN</text></g>
<g id="k-n8"><circle class="nd" cx="108" cy="175" r="10"/><text x="108" y="195">ORcompoundPROPN</text></g>
<g id="k-n9"><circle class="nd" cx="174" cy="181" r="10"/><text x="174" y="201">ORlsuSFADJ</text></g>
<g id="k-n10"><circle class="nd" cx="415" cy="183" r="10"/><text x="415" y="203">SRlsuSFVERB</text></g>
<g id="k-n11"><circle class="nd" cx="336" cy="176" r="10"/><text x="336" y="196">SRlsuMOET</text></g>
<g id="k-n12"><circle class="nd" cx="236" cy="216" r="10"/><text x="236" y="236">ORlsuSFVERB</text></g>
<g id="k-n13"><circle class="nd" cx="321" cy="237" r="10"/><text x="321" y="257">ORlsuSFADJ</text></g>
<g id="k-n14"><circle class="nd" cx="460" cy="241" r="10"/><text x="460" y="261">SRlsuSFNOUN</text></g>
<g id="k-n15"><circle class="nd" cx="264" cy="282" r="10"/><text x="264" y="302">ORcompoundSFNOUN</text></g>
<g id="k-n16"><circle class="nd" cx="134" cy="282" r="10"/><text x="134" y="302">ORlsuSFADJ</text></g>
<g id="k-n17"><circle class="nd" cx="412" cy="272" r="10"/><text x="412" y="292">SRcompoundNOUN</text></g>
<g id="k-n18"><circle class="nd" cx="362" cy="304" r="10"/><text x="362" y="324">ORlsuMOET</text></g>
<g id="k-n19"><circle class="nd" cx="568" cy="303" r="10"/><text x="568" y="323">SRlsuSFADV</text></g>
<g id="k-n20"><circle class="nd" cx="189" cy="331" r="10"/><text x="189" y="351">ORcompoundPRON</text></g>
<g id="k-n21"><circle class="nd" cx="442" cy="331" r="10"/><text x="442" y="351">SRlsuSFNOUN</text></g>
<g id="k-n22"><circle class="nd" cx="257" cy="350" r="10"/><text x="257" y="370">ORlsuSFVERB</text></g>
<g id="k-n23"><circle class="nd" cx="128" cy="368" r="10"/><text x="128" y="388">ORlsuSFDET</text></g>
<g id="k-n24"><circle class="nd" cx="380" cy="368" r="10"/><text x="380" y="388">ORcompoundSFNOUN</text></g>
<g id="k-n25"><circle class="nd" cx="207" cy="406" r="10"/><text x="207" y="426">ORLSFPUNCT</text></g>
<g id="k-n26"><circle class="nd" cx="313" cy="404" r="10"/><text x="313" y="424">ORlsuSFNOUN</text></g>
<g id="k-n27"><circle class="nd" cx="436" cy="410" r="10"/><text x="436" y="430">ORsuperSFADJ</text></g>
<g id="k-n28"><circle class="nd" cx="259" cy="456" r="10"/><text x="259" y="476">ORlsuSFNOUN</text></g>
<g id="k-n29"><circle class="nd" cx="374" cy="450" r="10"/><text x="374" y="470">ORlsuSFADV</text></g>
<g id="k-n30"><circle class="nd" cx="318" cy="473" r="10"/><text x="318" y="493">ORlsuSFADP</text></g>
</g>

<!-- Panel l -->
<g id="panel-l" class="p" transform="translate(860 330) scale(0.33333)">
<g id="l-edges">
<path class="e g" d="M314 34L322 82M322 82L331 131M238 55L263 100M263 100L293 143M245 145L293 143M331 131L338 181M293 143L338 181M290 181L338 181M338 181L286 220M338 181L322 229M338 181L358 229M338 181L409 175M385 28L387 77M433 53L387 77M387 77L374 128M374 128L409 175M407 124L409 175M438 129L409 175M468 150L409 175M498 107L468 150M517 162L468 150M409 175L449 180M409 175L372 190M409 175L431 222M409 175L462 209M188 213L236 218M236 218L286 220M286 220L262 271M262 271L216 290M262 271L268 325M268 325L298 373M250 365L298 373M298 373L271 424M298 373L346 411M346 411L401 415M401 415L426 460M271 424L225 408M271 424L231 455M271 424L273 472M271 424L316 454M316 454L368 451"/>
<path class="e b" d="M372 190L430 279M430 279L445 327M445 327L491 320M445 327L449 384M303 299L340 331M338 289L340 331M376 291L340 331M340 331L394 327M340 331L333 378M340 331L372 372M340 331L414 366"/>
<path class="e o" d="M409 175L400 233M262 271L303 299M340 331L298 373M449 384L401 415"/>
<ellipse class="e g" cx="460" cy="142" rx="11" ry="9"/>
<ellipse class="e b" cx="328" cy="322" rx="11" ry="9"/>
</g>
<g id="l-n0"><circle class="nd" cx="314" cy="34" r="10"/><text x="314" y="54">ORlsuSFADJ</text></g>
<g id="l-n1"><circle class="nd" cx="385" cy="28" r="10"/><text x="385" y="48">ORlsuSFADP</text></g>
<g id="l-n2"><circle class="nd" cx="238" cy="55" r="10"/><text x="238" y="75">ORlsuSFDET</text></g>
<g id="l-n3"><circle class="nd" cx="433" cy="53" r="10"/><text x="433" y="73">ORcompoundNOUN</text></g>
<g id="l-n4"><circle class="nd" cx="322" cy="82" r="10"/><text x="322" y="102">ORlsuSFNOUN</text></g>
<g id="l-n5"><circle class="nd" cx="387" cy="77" r="10"/><text x="387" y="97">ORlsuSFADV</text></g>
<g id="l-n6"><circle class="nd" cx="263" cy="100" r="10"/><text x="263" y="120">ORlsuSFDET</text></g>
<g id="l-n7"><circle class="nd" cx="331" cy="131" r="10"/><text x="331" y="151">ORlsuSFADP</text></g>
<g id="l-n8"><circle class="nd" cx="374" cy="128" r="10"/><text x="374" y="148">ORlsuSFNOUN</text></g>
<g id="l-n9"><circle class="nd" cx="407" cy="124" r="10"/><text x="407" y="144">ORlsuPUNCT</text></g>
<g id="l-n10"><circle class="nd" cx="438" cy="129" r="10"/><text x="438" y="149">ORlsuSFADJ</text></g>
<g id="l-n11"><circle class="nd" cx="245" cy="145" r="10"/><text x="245" y="165">ORlsuSFDET</text></g>
<g id="l-n12"><circle class="nd" cx="293" cy="143" r="10"/><text x="293" y="163">ORcompoundNOUN</text></g>
<g id="l-n13"><circle class="nd" cx="498" cy="107" r="10"/><text x="498" y="127">ORlsuSFADP</text></g>
<g id="l-n14"><circle class="nd" cx="468" cy="150" r="10"/><text x="468" y="170">ORlsuSFVERB</text></g>
<g id="l-n15"><circle class="nd" cx="517" cy="162" r="10"/><text x="517" y="182">ORlsuSFNOUN</text></g>
<g id="l-n16"><circle class="nd" cx="290" cy="181" r="10"/><text x="290" y="201">ORlsuSFDET</text></g>
<g id="l-n17"><circle class="nd" cx="338" cy="181" r="10"/><text x="338" y="201">ORrootSFVERB</text></g>
<g id="l-n18"><circle class="nd" cx="409" cy="175" r="10"/><text x="409" y="195">ORcompoundSFNOUN</text></g>
<g id="l-n19"><circle class="nd" cx="449" cy="180" r="10"/><text x="449" y="200">ORlsuSFADV</text></g>
<g id="l-n20"><circle class="nd" cx="372" cy="190" r="10"/><text x="372" y="210">ORlsuSFNOUN</text></g>
<g id="l-n21"><circle class="nd" cx="188" cy="213" r="10"/><text x="188" y="233">ORlsuSFADP</text></g>
<g id="l-n22"><circle class="nd" cx="236" cy="218" r="10"/><text x="236" y="238">ORcompoundNOUN</text></g>
<g id="l-n23"><circle class="nd" cx="286" cy="220" r="10"/><text x="286" y="240">ORlsuSFNOUN</text></g>
<g id="l-n24"><circle class="nd" cx="322" cy="229" r="10"/><text x="322" y="249">ORlsuSFADJ</text></g>
<g id="l-n25"><circle class="nd" cx="358" cy="229" r="10"/><text x="358" y="249">ORlsuSFDET</text></g>
<g id="l-n26"><circle class="nd" cx="431" cy="222" r="10"/><text x="431" y="242">ORlsuSFADP</text></g>
<g id="l-n27"><circle class="nd" cx="462" cy="209" r="10"/><text x="462" y="229">ORlsuSFNOUN</text></g>
<g id="l-n28"><circle class="nd" cx="400" cy="233" r="10"/><text x="400" y="253">ORlsuPUNCT</text></g>
<g id="l-n29"><circle class="nd" cx="262" cy="271" r="10"/><text x="262" y="291">ORlsuSFVERB</text></g>
<g id="l-n30"><circle class="nd" cx="216" cy="290" r="10"/><text x="216" y="310">ORlsuSFADJ</text></g>
<g id="l-n31"><circle class="nd" cx="303" cy="299" r="10"/><text x="303" y="319">ORlsuSFNOUN</text></g>
<g id="l-n32"><circle class="nd" cx="338" cy="289" r="10"/><text x="338" y="309">ORlsuSFDET</text></g>
<g id="l-n33"><circle class="nd" cx="376" cy="291" r="10"/><text x="376" y="311">ORlsuSFADP</text></g>
<g id="l-n34"><circle class="nd" cx="430" cy="279" r="10"/><text x="430" y="299">ORlsuSFNOUN</text></g>
<g id="l-n35"><circle class="nd" cx="268" cy="325" r="10"/><text x="268" y="345">ORlsuSFNOUN</text></g>
<g id="l-n36"><circle class="nd" cx="340" cy="331" r="10"/><text x="340" y="351">ORrootSFVERB</text></g>
<g id="l-n37"><circle class="nd" cx="394" cy="327" r="10"/><text x="394" y="347">ORlsuSFADJ</text></g>
<g id="l-n38"><circle class="nd" cx="445" cy="327" r="10"/><text x="445" y="347">ORlsuSFNOUN</text></g>
<g id="l-n39"><circle class="nd" cx="491" cy="320" r="10"/><text x="491" y="340">ORlsuSFDET</text></g>
<g id="l-n40"><circle class="nd" cx="250" cy="365" r="10"/><text x="250" y="385">ORlsuSFADP</text></g>
<g id="l-n41"><circle class="nd" cx="298" cy="373" r="10"/><text x="298" y="393">ORcompoundNOUN</text></g>
<g id="l-n42"><circle class="nd" cx="333" cy="378" r="10"/><text x="333" y="398">ORlsuSFDET</text></g>
<g id="l-n43"><circle class="nd" cx="372" cy="372" r="10"/><text x="372" y="392">ORlsuSFADV</text></g>
<g id="l-n44"><circle class="nd" cx="414" cy="366" r="10"/><text x="414" y="386">ORlsuSFNOUN</text></g>
<g id="l-n45"><circle class="nd" cx="449" cy="384" r="10"/><text x="449" y="404">ORlsuSFADP</text></g>
<g id="l-n46"><circle class="nd" cx="225" cy="408" r="10"/><text x="225" y="428">ORlsuSFADJ</text></g>
<g id="l-n47"><circle class="nd" cx="271" cy="424" r="10"/><text x="271" y="444">ORlsuSFNOUN</text></g>
<g id="l-n48"><circle class="nd" cx="346" cy="411" r="10"/><text x="346" y="431">ORlsuSFDET</text></g>
<g id="l-n49"><circle class="nd" cx="401" cy="415" r="10"/><text x="401" y="435">ORlsuSFNOUN</text></g>
<g id="l-n50"><circle class="nd" cx="231" cy="455" r="10"/><text x="231" y="475">ORlsuSFADP</text></g>
<g id="l-n51"><circle class="nd" cx="273" cy="472" r="10"/><text x="273" y="492">ORlsuSFDET</text></g>
<g id="l-n52"><circle class="nd" cx="316" cy="454" r="10"/><text x="316" y="474">ORcompoundSFNOUN</text></g>
<g id="l-n53"><circle class="nd" cx="368" cy="451" r="10"/><text x="368" y="471">ORlsuSFADV</text></g>
<g id="l-n54"><circle class="nd" cx="426" cy="460" r="10"/><text x="426" y="480">ORlsuSFADP</text></g>
</g>

<!-- Captions -->
<g id="captions">
<text class="cap" x="88" y="514">(a)</text><text class="cap" x="127" y="514">Cluster 0</text>
<text class="cap" x="358" y="514">(b)</text><text class="cap" x="397" y="514">Cluster 1</text>
<text class="cap" x="624" y="514">(c)</text><text class="cap" x="662" y="514">Cluster 2</text>
<text class="cap" x="903" y="514">(d)</text><text class="cap" x="943" y="514">Cluster 3</text>
</g>
</svg>
